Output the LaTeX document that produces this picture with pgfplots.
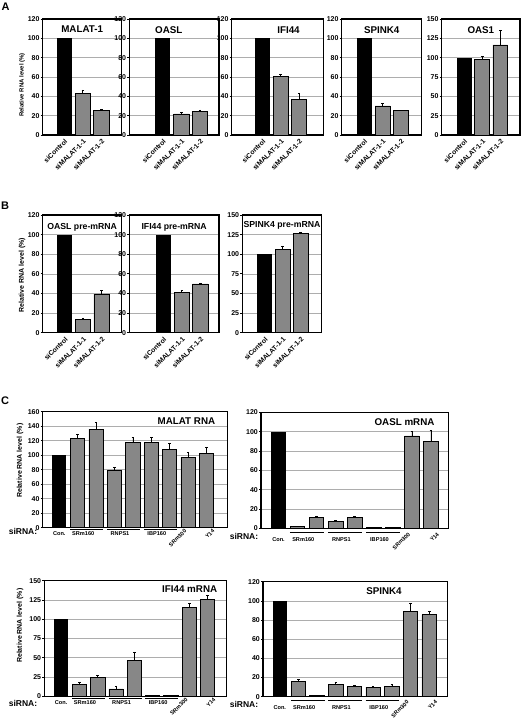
\documentclass[border=0pt]{standalone}
\usepackage{fontspec}
\setmainfont{Liberation Sans}
\usepackage{pgfplots}
\pgfplotsset{compat=1.18}
\definecolor{bargray}{gray}{0.53}
\definecolor{gridgray}{gray}{0.68}
\newcommand\tickfont{\bfseries\fontsize{7}{8}\selectfont}
\newcommand\xlabfont{\bfseries\fontsize{6.8}{8}\selectfont}
\newcommand\ttlA{\bfseries\fontsize{9.8}{11}\selectfont}
\newcommand\ttlB{\bfseries\fontsize{8.7}{10}\selectfont}
\newcommand\ylabA{\bfseries\fontsize{6}{7}\selectfont}
\newcommand\ylabB{\bfseries\fontsize{7}{8}\selectfont}
\newcommand\ylabC{\bfseries\fontsize{7}{8}\selectfont}
\newcommand\clab{\bfseries\fontsize{5.6}{6}\selectfont}
\newcommand\sirna{\bfseries\fontsize{8.5}{9}\selectfont}
\newcommand\letfont{\bfseries\fontsize{11}{12}\selectfont}
\pgfplotsset{
  panel/.style={
    scale only axis, anchor=south west, clip=false,
    axis line style={line width=1.1pt},
    ymin=0, ymajorgrids, grid style={gridgray, line width=0.6pt},
    tick align=outside, ytick pos=left, major tick length=2pt,
    ytick style={black, line width=0.7pt},
    xtick style={draw=none},
    yticklabel style={font=\tickfont, inner sep=1pt},
    /pgf/number format/assume math mode=true,
  },
  ab/.style={xtick={0,1,2}, xticklabels={siControl,siMALAT-1-1,siMALAT-1-2},
    xticklabel style={rotate=45, anchor=north east, font=\xlabfont, inner sep=1pt}},
  cc/.style={xtick=\empty},
  blk/.style={ybar, bar shift=0pt, bar width=#1, fill=black, draw=none},
  gry/.style={ybar, bar shift=0pt, bar width=#1, fill=bargray, draw=black, line width=0.8pt,
    error bars/.cd, y dir=plus, y explicit,
    error bar style={black, line width=0.7pt},
    error mark options={black, line width=0.7pt, mark size=1.3pt, rotate=90}},
}
\newcommand{\cxlabels}[3]{%
  \draw[line width=1.1pt] ([yshift=#1]axis cs:0.6,0) -- ([yshift=#1]axis cs:2.4,0);
  \draw[line width=1.1pt] ([yshift=#1]axis cs:2.6,0) -- ([yshift=#1]axis cs:4.4,0);
  \draw[line width=1.1pt] ([yshift=#1]axis cs:4.6,0) -- ([yshift=#1]axis cs:6.4,0);
  \node[font=\clab] at ([yshift=#2]axis cs:0,0) {Con.};
  \node[font=\clab] at ([yshift=#2]axis cs:1.3,0) {SRm160};
  \node[font=\clab] at ([yshift=#2]axis cs:3.3,0) {RNPS1};
  \node[font=\clab] at ([yshift=#2]axis cs:5.3,0) {IBP160};
  \node[font=\clab, rotate=45, anchor=north east, inner sep=0pt] at ([yshift=#3]axis cs:6.78,0) {SRm300};
  \node[font=\clab, rotate=45, anchor=north east, inner sep=0pt] at ([yshift=#3]axis cs:8.3,0) {Y14};
}
\begin{document}
\begin{tikzpicture}
\path[use as bounding box] (0,0) rectangle (523pt,724pt);
\node[font=\letfont] at (5.5pt,717.7pt) {A};
\node[font=\letfont] at (5pt,518.5pt) {B};
\node[font=\letfont] at (5pt,323.7pt) {C};
\node[font=\sirna] at (23pt,193pt) {siRNA:};
\node[font=\sirna] at (244pt,187.5pt) {siRNA:};
\node[font=\sirna] at (23pt,21pt) {siRNA:};
\node[font=\sirna] at (244pt,20pt) {siRNA:};

% ---------------- Panel A ----------------
\begin{axis}[panel, ab, at={(42.7pt,589pt)}, width=79pt, height=116pt,
  xmin=-1.17, xmax=3.1, ymax=120, ytick={0,20,...,120},
  ylabel={Relative RNA level (\%)},
  ylabel style={font=\ylabA, at={(axis description cs:0,0.43)}, anchor=center, yshift=20.7pt}]
\addplot[blk=0.82] coordinates {(0,100)};
\addplot[gry=0.82] coordinates {(1,43.1) +- (0,3.5) (2,25) +- (0,1.8)};
\node[font=\ttlA] at (rel axis cs:0.5,1) [yshift=-10.3pt] {MALAT-1};
\end{axis}

\begin{axis}[panel, ab, at={(129.3pt,589pt)}, width=89.7pt, height=116pt,
  xmin=-1.8, xmax=3.02, ymax=120, ytick={0,20,...,120}]
\addplot[blk=0.82] coordinates {(0,100)};
\addplot[gry=0.82] coordinates {(1,21.8) +- (0,1.2) (2,24.5) +- (0,1.5)};
\node[font=\ttlA] at (rel axis cs:0.44,1) [yshift=-11pt] {OASL};
\end{axis}

\begin{axis}[panel, ab, at={(231.7pt,589pt)}, width=91.6pt, height=116pt,
  xmin=-1.68, xmax=3.32, ymax=120, ytick={0,20,...,120}]
\addplot[blk=0.82] coordinates {(0,100)};
\addplot[gry=0.82] coordinates {(1,60.2) +- (0,2.1) (2,36.9) +- (0,5.9)};
\node[font=\ttlA] at (rel axis cs:0.62,1) [yshift=-11pt] {IFI44};
\end{axis}

\begin{axis}[panel, ab, at={(341.7pt,589pt)}, width=80pt, height=116pt,
  xmin=-1.23, xmax=3.14, ymax=120, ytick={0,20,...,120}]
\addplot[blk=0.82] coordinates {(0,100)};
\addplot[gry=0.82] coordinates {(1,30) +- (0,2.7) (2,25) +- (0,0.7)};
\node[font=\ttlA] at (rel axis cs:0.5,1) [yshift=-11pt] {SPINK4};
\end{axis}

\begin{axis}[panel, ab, at={(441.7pt,589pt)}, width=78.3pt, height=116pt,
  xmin=-1.25, xmax=3.09, ymax=150, ytick={0,25,...,150}]
\addplot[blk=0.82] coordinates {(0,100)};
\addplot[gry=0.82] coordinates {(1,98) +- (0,3.5) (2,116.5) +- (0,18.3)};
\node[font=\ttlA] at (rel axis cs:0.5,1) [yshift=-11pt] {OAS1};
\end{axis}

% ---------------- Panel B ----------------
\begin{axis}[panel, ab, at={(42.7pt,391.3pt)}, width=79pt, height=117.7pt,
  xmin=-1.2, xmax=3.1, ymax=120, ytick={0,20,...,120},
  ylabel={Relative RNA level (\%)},
  ylabel style={font=\ylabB, at={(axis description cs:0,0.49)}, anchor=center, yshift=20.7pt}]
\addplot[blk=0.82] coordinates {(0,100)};
\addplot[gry=0.82] coordinates {(1,13.6) +- (0,1.4) (2,39.5) +- (0,3.4)};
\node[font=\ttlB] at (rel axis cs:0.5,1) [yshift=-12.7pt] {OASL pre-mRNA};
\end{axis}

\begin{axis}[panel, ab, at={(129.3pt,391.3pt)}, width=89.7pt, height=117.7pt,
  xmin=-1.84, xmax=3.01, ymax=120, ytick={0,20,...,120}]
\addplot[blk=0.82] coordinates {(0,100)};
\addplot[gry=0.82] coordinates {(1,40.8) +- (0,2.7) (2,49.7) +- (0,1)};
\node[font=\ttlB] at (rel axis cs:0.5,1) [yshift=-12.7pt] {IFI44 pre-mRNA};
\end{axis}

\begin{axis}[panel, ab, at={(242.3pt,391.3pt)}, width=79.4pt, height=117.7pt,
  xmin=-1.24, xmax=3.17, ymax=150, ytick={0,25,...,150}]
\addplot[blk=0.82] coordinates {(0,100)};
\addplot[gry=0.82] coordinates {(1,105.8) +- (0,4.8) (2,126.4) +- (0,1.6)};
\node[font=\ttlB] at (rel axis cs:0.5,1) [yshift=-10pt] {SPINK4 pre-mRNA};
\end{axis}

% ---------------- Panel C ----------------
\begin{axis}[panel, cc, at={(42.7pt,196.3pt)}, width=185pt, height=116pt,
  xmin=-0.9, xmax=9.15, ymax=160, ytick={0,20,...,160},
  ylabel={Relative RNA level (\%)},
  ylabel style={font=\ylabC, at={(axis description cs:0,0.577)}, anchor=center, yshift=22.7pt}]
\addplot[blk=0.78] coordinates {(0,100)};
\addplot[gry=0.78] coordinates {(1,123.2) +- (0,5.5) (2,136) +- (0,8.8) (3,79) +- (0,4.2)
  (4,117.7) +- (0,6.4) (5,117.7) +- (0,6.4) (6,108.5) +- (0,7.8) (7,97.5) +- (0,6.9) (8,102) +- (0,8.8)};
\node[font=\ttlA, anchor=east] at (rel axis cs:1,1) [xshift=-9pt, yshift=-9.3pt] {MALAT RNA};
\cxlabels{-2pt}{-6pt}{-1pt}
\end{axis}

\begin{axis}[panel, cc, at={(261pt,195.7pt)}, width=187.7pt, height=116pt,
  xmin=-0.92, xmax=8.93, ymax=120, ytick={0,20,...,120}]
\addplot[blk=0.76] coordinates {(0,100)};
\addplot[gry=0.76] coordinates {(1,1.5) +- (0,0) (2,11) +- (0,1.8) (3,6.9) +- (0,1.4)
  (4,11) +- (0,1) (5,1) +- (0,0) (6,1) +- (0,0) (7,95.5) +- (0,4.5) (8,90.3) +- (0,10.7)};
\node[font=\ttlA, anchor=east] at (rel axis cs:1,1) [xshift=-10.7pt, yshift=-10pt] {OASL mRNA};
\cxlabels{-4.5pt}{-11.5pt}{-3.5pt}
\end{axis}

\begin{axis}[panel, cc, at={(44.3pt,27.7pt)}, width=182.4pt, height=115.6pt,
  xmin=-0.92, xmax=9.04, ymax=150, ytick={0,25,...,150},
  ylabel={Relative RNA level (\%)},
  ylabel style={font=\ylabC, at={(axis description cs:0,0.61)}, anchor=center, yshift=24.3pt}]
\addplot[blk=0.78] coordinates {(0,100)};
\addplot[gry=0.78] coordinates {(1,15.2) +- (0,2.6) (2,24.3) +- (0,2.6) (3,9.5) +- (0,3.9)
  (4,46.8) +- (0,10.8) (5,1.5) +- (0,0) (6,1.5) +- (0,0) (7,115.3) +- (0,5.2) (8,125.7) +- (0,4.8)};
\node[font=\ttlA, anchor=east] at (rel axis cs:1,1) [xshift=-6pt, yshift=-8.6pt] {IFI44 mRNA};
\cxlabels{-2pt}{-6pt}{-1pt}
\end{axis}

\begin{axis}[panel, cc, at={(263pt,27.3pt)}, width=184.7pt, height=115pt,
  xmin=-0.9, xmax=8.99, ymax=120, ytick={0,20,...,120}]
\addplot[blk=0.78] coordinates {(0,100)};
\addplot[gry=0.78] coordinates {(1,15.9) +- (0,2.4) (2,1) +- (0,0) (3,13.1) +- (0,1.8)
  (4,11) +- (0,0.8) (5,10) +- (0,1) (6,11) +- (0,2) (7,88.9) +- (0,8.7) (8,85.5) +- (0,3.8)};
\node[font=\ttlA] at (rel axis cs:0.655,1) [yshift=-9pt] {SPINK4};
\cxlabels{-3.5pt}{-11pt}{-3pt}
\end{axis}
\end{tikzpicture}
\end{document}
